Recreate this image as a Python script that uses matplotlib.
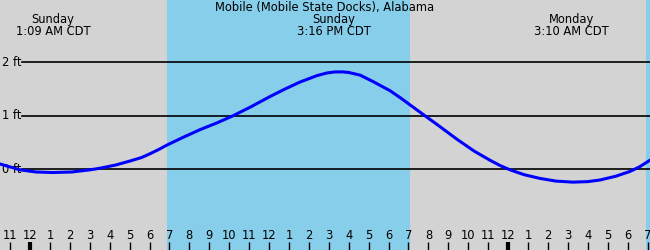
import matplotlib
matplotlib.use('Agg')
import matplotlib.pyplot as plt

# horas a partir de domingo 00:00 (CDT) e altura da mare em pes
horas = [-1.51, -0.50, 0.30, 1.15, 2.10, 3.01, 3.51, 4.30, 5.02, 5.60, 6.02,
         6.46, 6.86, 7.70, 8.53, 9.40, 10.19, 11.10, 12.05, 12.80, 13.55,
         14.40, 14.90, 15.31, 15.70, 16.00, 16.57, 17.22, 18.07, 18.60, 19.13,
         19.83, 20.50, 21.44, 22.30, 23.09, 23.60, 24.10, 24.80, 25.60, 26.40,
         27.26, 28.00, 28.61, 29.40, 30.12, 30.62, 31.12]
altura = [0.10, -0.01, -0.05, -0.06, -0.05, -0.01, 0.02, 0.08, 0.155, 0.22,
          0.29, 0.37, 0.45, 0.60, 0.74, 0.87, 1.00, 1.17, 1.36, 1.50, 1.63,
          1.75, 1.80, 1.82, 1.82, 1.81, 1.76, 1.64, 1.47, 1.335, 1.19, 1.00,
          0.82, 0.56, 0.34, 0.17, 0.07, -0.01, -0.10, -0.17, -0.22, -0.24,
          -0.23, -0.20, -0.13, -0.04, 0.05, 0.17]

# periodos de dia (nascer, por do sol)
dia = [(6.86, 19.08), (30.92, 32.0)]

# marcas do eixo x
horas_tick = list(range(-1, 32))
rotulos_tick = ['11', '12', '1', '2', '3', '4', '5', '6', '7', '8', '9', '10',
                '11', '12', '1', '2', '3', '4', '5', '6', '7', '8', '9', '10',
                '11', '12', '1', '2', '3', '4', '5', '6', '7']
meia_noite = [0, 24]

# linhas horizontais
niveis = [0, 1, 2]
rotulos_niveis = ['0 ft', '1 ft', '2 ft']

# extremos anotados
extremos_h = [1.15, 15.27, 27.17]
extremos_txt = ['Sunday\n1:09 AM CDT', 'Sunday\n3:16 PM CDT', 'Monday\n3:10 AM CDT']

titulo = 'Mobile (Mobile State Docks), Alabama'

fs = 8.3

fig = plt.figure(figsize=(6.5, 2.5), dpi=100)
ax = fig.add_axes([0, 0, 1, 1])
ax.set_xlim(-1.506, 31.125)
ax.set_ylim(-1.508, 3.164)
ax.axis('off')
ax.add_patch(plt.Rectangle((0, 0), 1, 1, transform=ax.transAxes,
                           color='#d3d3d3', zorder=0))

for ini, fim in dia:
    ax.axvspan(ini, fim, color='#87ceeb', zorder=1, lw=0)

x_texto = ax.get_xlim()[0]
for n, nivel in enumerate(niveis):
    ax.axhline(nivel, xmin=0.034, color='black', lw=1.2, zorder=2)
    ax.text(x_texto + 0.08, nivel, rotulos_niveis[n], fontsize=fs,
            ha='left', va='center', zorder=3)

ax.plot(horas, altura, color='blue', lw=2.2, zorder=4,
        solid_capstyle='round', solid_joinstyle='round')

trans = ax.get_xaxis_transform()
for n, h in enumerate(horas_tick):
    lw = 3 if h in meia_noite else 1
    ax.plot([h, h], [0, 0.032], color='black', lw=lw, transform=trans,
            zorder=3, solid_capstyle='butt')
    ax.text(h, 0.057, rotulos_tick[n], fontsize=fs, ha='center',
            va='center', transform=trans, zorder=3)

for n, h in enumerate(extremos_h):
    ax.text(h, 0.898, extremos_txt[n], fontsize=fs, ha='center',
            va='center', linespacing=0.95, transform=trans, zorder=3)

ax.text(0.5, 0.97, titulo, fontsize=fs, ha='center', va='center',
        transform=ax.transAxes, zorder=3)

fig.savefig('out.png', dpi=100)
